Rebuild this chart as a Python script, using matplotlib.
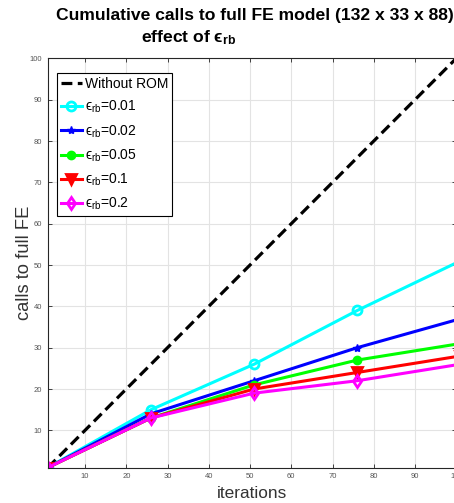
import numpy as np
import matplotlib.pyplot as plt

plt.rcParams['font.family'] = ['Liberation Sans', 'DejaVu Sans']
plt.rcParams['mathtext.fontset'] = 'custom'
plt.rcParams['mathtext.rm'] = 'Liberation Sans'
plt.rcParams['mathtext.it'] = 'Liberation Sans:italic'
plt.rcParams['mathtext.bf'] = 'Liberation Sans:bold'

# iterations at which the full FE model count was recorded
iters = [1, 26, 51, 76, 101]
without_rom = [1, 26, 51, 76, 101]
calls_001 = [1, 15, 26, 39, 51]
calls_002 = [1, 14, 22, 30, 37]
calls_005 = [1, 13, 21, 27, 31]
calls_01 = [1, 13, 20, 24, 28]
calls_02 = [1, 13, 19, 22, 26]

eps_labels = ['0.01', '0.02', '0.05', '0.1', '0.2']
colors = ['#00ffff', '#0000ff', '#00ff00', '#ff0000', '#ff00ff']
markers = ['o', '*', '.', 'v', 'd']

fig = plt.figure(figsize=(4.54, 5.03), dpi=100)
ax = fig.add_axes([0.1055, 0.0705, 0.8995, 0.8135])

ax.plot(iters, without_rom, color='k', linestyle='--', linewidth=2.3,
        dashes=(3.4, 1.7), label='Without ROM')
series = [calls_001, calls_002, calls_005, calls_01, calls_02]
for y, c, m, e in zip(series, colors, markers, eps_labels):
    mfc = 'none' if m in ('o', 'd') else c
    ms = {'.': 10, '*': 6}.get(m, 6.5)
    ax.plot(iters, y, color=c, marker=m, markersize=ms, markerfacecolor=mfc,
            markeredgewidth=2 if m != '*' else 1, linewidth=2.2,
            label='ϵ$_{\\mathrm{rb}}$=' + e)

ax.set_xlim(1, 100)
ax.set_ylim(1, 100)
ax.set_xticks(np.arange(10, 101, 10))
ax.set_yticks(np.arange(10, 101, 10))
ax.grid(True, color='#e3e3e3', linewidth=0.8)
ax.set_axisbelow(True)
ax.tick_params(direction='in', top=True, right=True, length=3, width=0.6,
               labelsize=5.5, colors='#262626', labelcolor='#555555', pad=4)
for s in ax.spines.values():
    s.set_color('#262626')
    s.set_linewidth(0.8)

ax.set_xlabel('iterations', fontsize=12.4, color='#333333', labelpad=4)
ax.set_ylabel('calls to full FE', fontsize=13.2, color='#333333', labelpad=-2)

fig.text(0.5617, 0.970, 'Cumulative calls to full FE model (132 x 33 x 88)',
         ha='center', va='center', fontsize=12.6, fontweight='bold')
fig.text(0.416, 0.925, 'effect of ϵ$_{\\mathbf{rb}}$',
         ha='center', va='center', fontsize=12.6, fontweight='bold')

leg = ax.legend(loc='upper left', bbox_to_anchor=(0.022, 0.964),
                fontsize=10, frameon=True, fancybox=False,
                edgecolor='k', framealpha=1, handlelength=1.5,
                handletextpad=0.2, labelspacing=0.56, borderpad=0.3,
                borderaxespad=0)
leg.get_frame().set_linewidth(0.8)

fig.savefig('out.png', dpi=100)
